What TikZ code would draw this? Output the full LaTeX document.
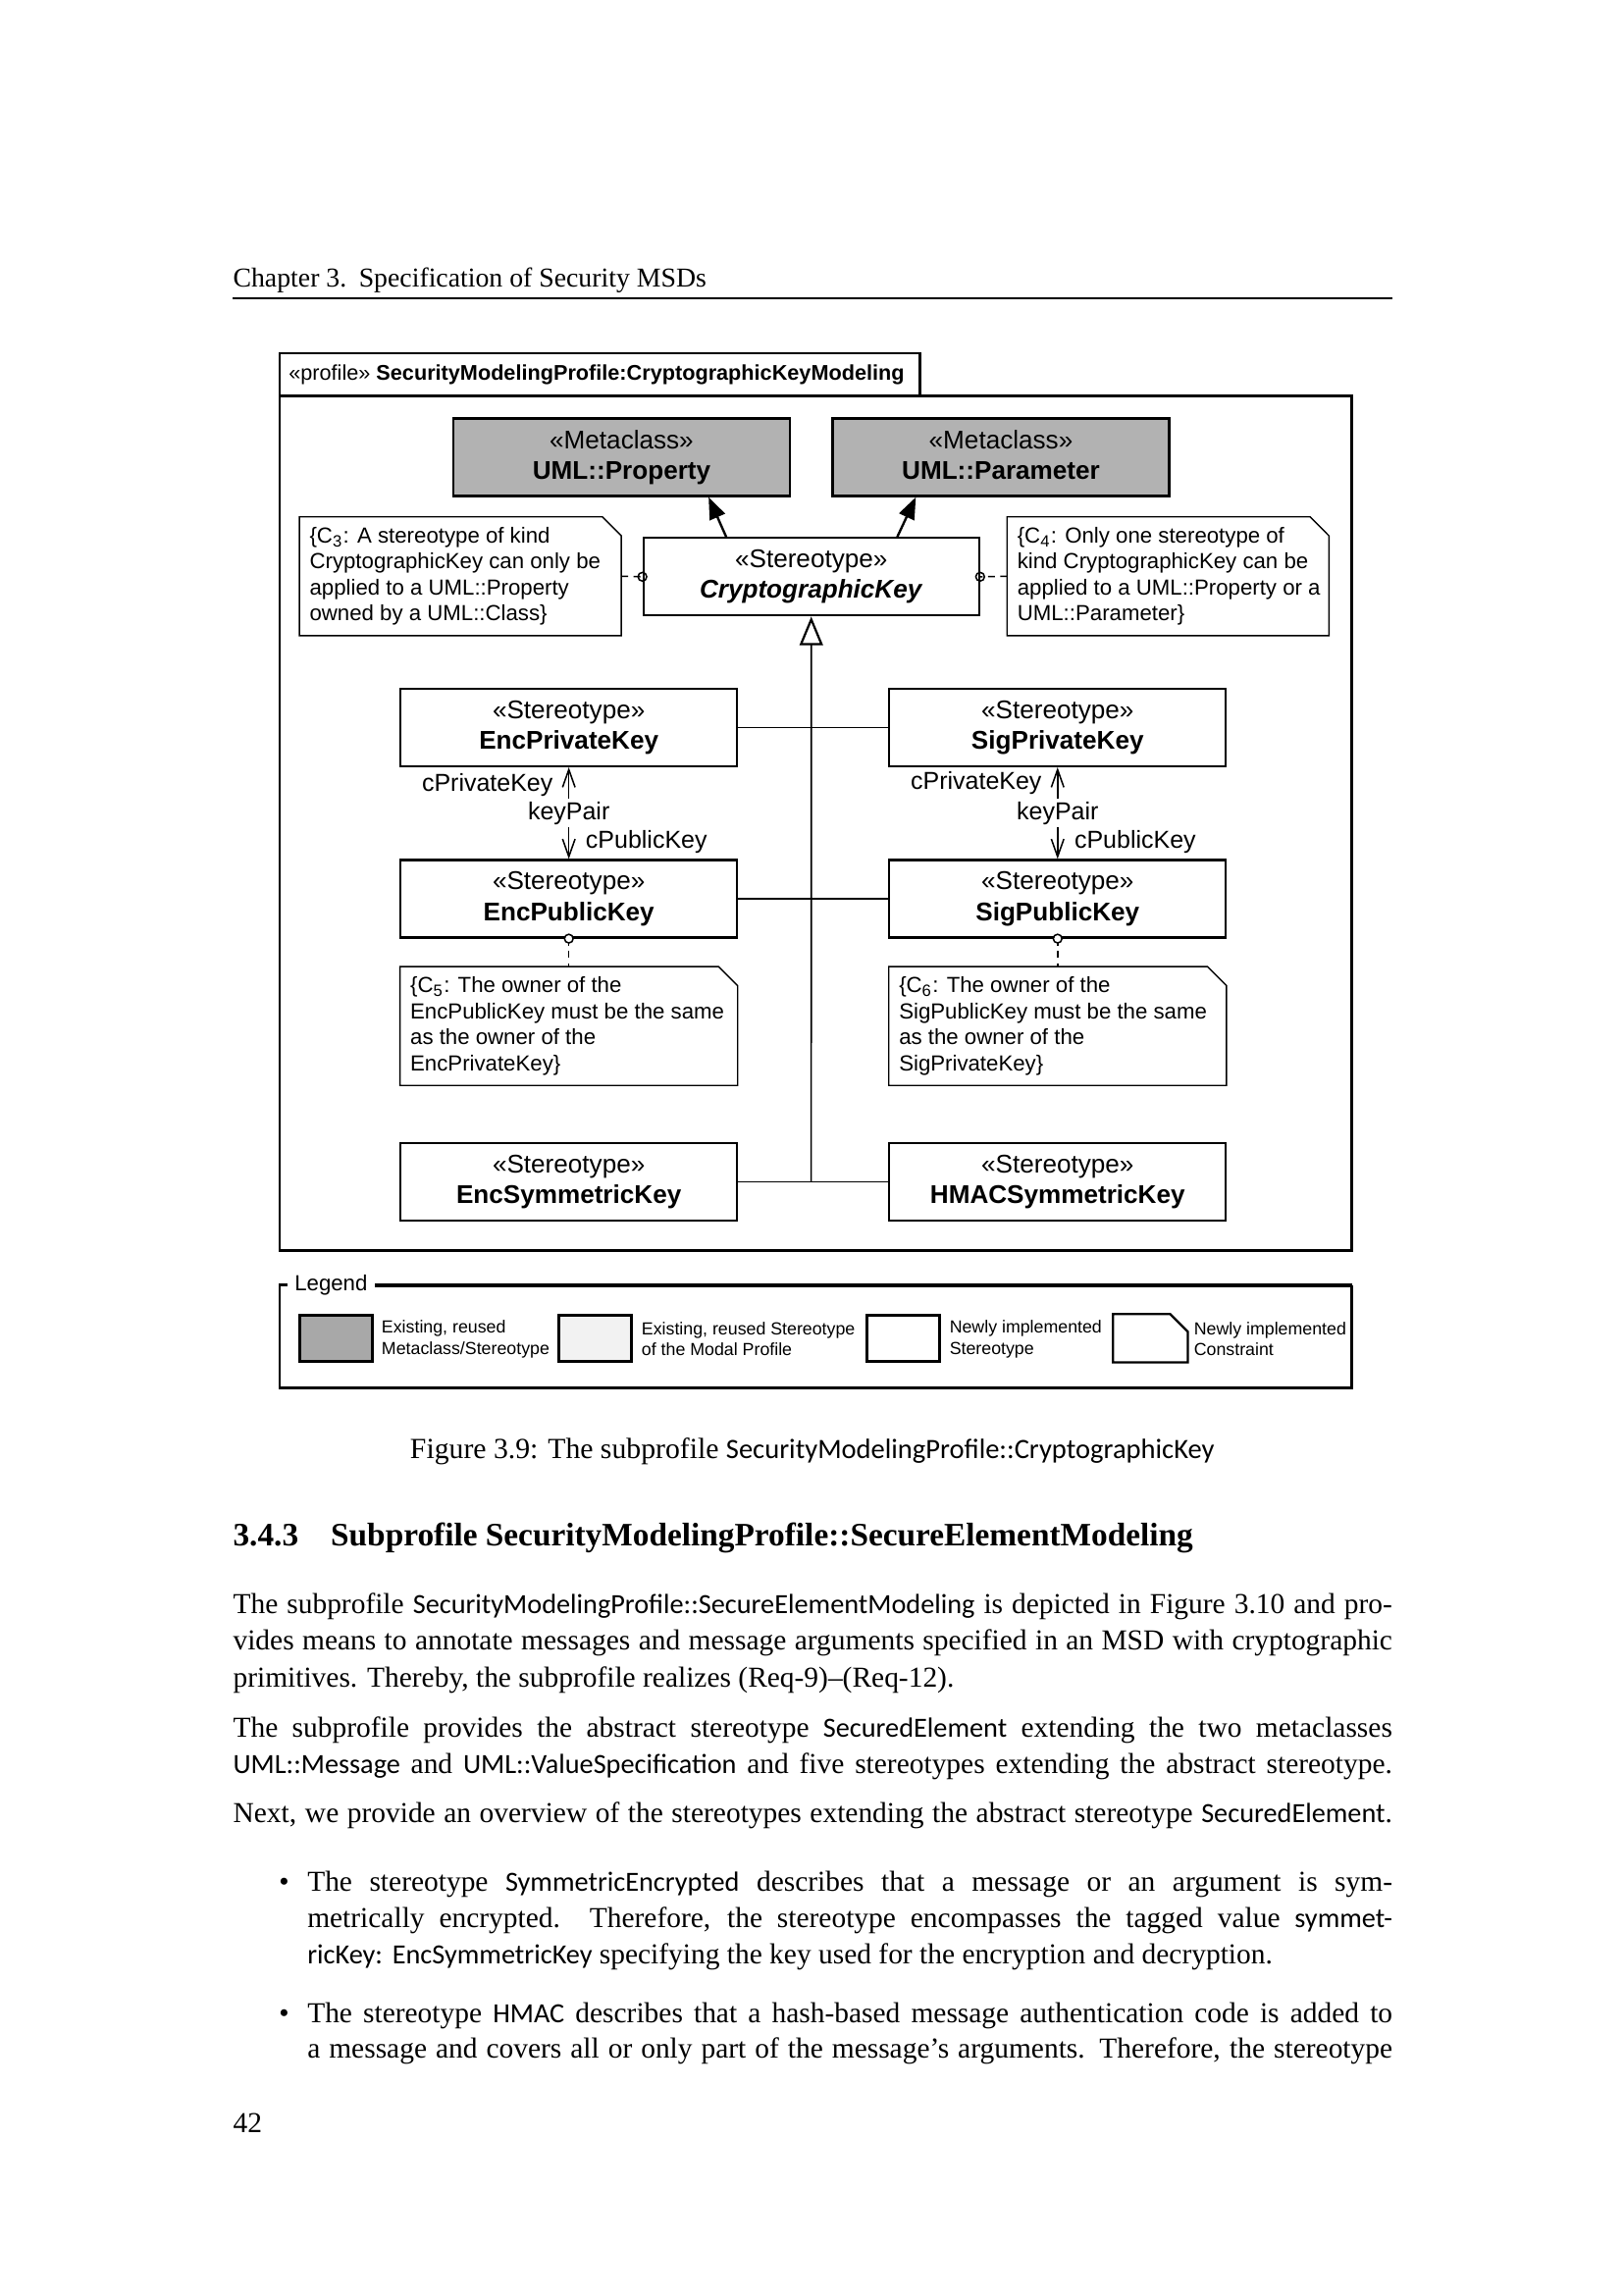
\documentclass[tikz,border=0pt]{standalone}
\usepackage{fontspec}
\setmainfont{Liberation Serif}
\newfontfamily\diag{Liberation Sans}
\newfontfamily\sfb{Carlito}[Scale=0.96]
\usetikzlibrary{arrows.meta,calc}
\definecolor{metagray}{gray}{0.70}
\definecolor{leggray}{gray}{0.66}
\definecolor{lightgray2}{gray}{0.95}
\newcommand{\jline}[1]{\makebox[425.3pt][s]{#1}}
\newcommand{\bline}[1]{\makebox[398.1pt][s]{#1}}
\newcommand{\drawnote}[2]{\draw[noteline] (#1.north west) -- ([xshift=-#2]#1.north east) -- ([yshift=-#2]#1.north east) -- (#1.south east) -- (#1.south west) -- cycle;}
\tikzset{
  frame/.style={line width=0.9pt},
  box/.style={draw, line width=0.8pt, fill=white, minimum width=343*0.36pt, minimum height=79*0.36pt, align=center, inner sep=0pt, font=\diag\fontsize{9.4}{11.3}\selectfont},
  meta/.style={box, fill=metagray},
  notearea/.style={minimum width=327*0.36pt, minimum height=120*0.36pt, inner sep=0pt},
  notetext/.style={anchor=west, align=left, inner sep=0pt, font=\diag\fontsize{8}{9.5}\selectfont},
  noteline/.style={line width=0.5pt, fill=white},
  conn/.style={line width=0.55pt},
  extarrow/.style={line width=0.85pt, -{Triangle[length=8pt,width=6pt]}},
  dashconn/.style={conn, dash pattern=on 2.5pt off 2pt},
  role/.style={font=\diag\fontsize{9}{10}\selectfont, inner sep=1pt},
  body/.style={anchor=base west, inner sep=0pt, font=\fontsize{10.6}{13.6}\selectfont},
  legbox/.style={draw, line width=0.8pt, minimum width=74*0.36pt, minimum height=47*0.36pt, inner sep=0pt},
  legtext/.style={anchor=west, align=left, inner sep=0pt, font=\diag\fontsize{6.4}{7.6}\selectfont},
  barb/.style={conn, {Straight Barb[length=6.5pt,width=4.6pt]}-{Straight Barb[length=6.5pt,width=4.6pt]}}
}
\begin{document}
\begin{tikzpicture}[x=0.36pt,y=-0.36pt]
\useasboundingbox (0,0) rectangle (1654,2339);
\begin{scope}[shift={(237,292)}, xscale=0.9962, yscale=0.9976, shift={(-237,-292)}]

% page header
\node[body, font=\fontsize{10}{12}\selectfont] (hdr) at (237,292) {Chapter 3.\hspace{4.5pt}Specification of Security MSDs};
\draw[line width=0.45pt] (237,304) -- (1423,304);

% profile frame
\draw[frame] (285,360) rectangle (940,404);
\draw[frame] (285,404) rectangle (1382,1277);
\node[anchor=west, inner sep=0pt, font=\diag\fontsize{7.8}{9.4}\selectfont] (tabtext) at (294,382) {«profile» \textbf{SecurityModelingProfile:CryptographicKeyModeling}};

% metaclasses
\node[meta] (prop) at (635,466.5) {«Metaclass»\\ \textbf{UML::Property}};
\node[meta] (param) at (1023,466.5) {«Metaclass»\\ \textbf{UML::Parameter}\vphantom{y}};

% abstract stereotype
\node[box, minimum width=342*0.36pt] (ck) at (829,588.5) {«Stereotype»\\ \textbf{\textit{CryptographicKey}}};

% constraints C3, C4
\node[notearea] (c3) at (470,588) {};
\drawnote{c3}{7pt}
\node[notetext] (c3t) at ($(c3.west)+(10,0)$) {\{C\textsubscript{3}: A stereotype of kind\\CryptographicKey can only be\\applied to a UML::Property\\owned by a UML::Class\}};
\node[notearea] (c4) at (1194,588) {};
\drawnote{c4}{7pt}
\node[notetext] (c4t) at ($(c4.west)+(10,0)$) {\{C\textsubscript{4}: Only one stereotype of\\kind CryptographicKey can be\\applied to a UML::Property or a\\UML::Parameter\}};

% concrete stereotypes
\node[box] (encpriv) at (581,742.5) {«Stereotype»\\ \textbf{EncPrivateKey}};
\node[box] (sigpriv) at (1081,742.5) {«Stereotype»\\ \textbf{SigPrivateKey}};
\node[box] (encpub) at (581,917.5) {«Stereotype»\\ \textbf{EncPublicKey}};
\node[box] (sigpub) at (1081,917.5) {«Stereotype»\\ \textbf{SigPublicKey}};
\node[box] (encsym) at (581,1206.5) {«Stereotype»\\ \textbf{EncSymmetricKey}};
\node[box] (hmac) at (1081,1206.5) {«Stereotype»\\ \textbf{HMACSymmetricKey}};

% constraints C5, C6
\node[notearea, minimum width=343*0.36pt] (c5) at (581,1047.5) {};
\drawnote{c5}{7pt}
\node[notetext] (c5t) at ($(c5.west)+(10,0)$) {\{C\textsubscript{5}: The owner of the\\EncPublicKey must be the same\\as the owner of the\\EncPrivateKey\}};
\node[notearea, minimum width=343*0.36pt] (c6) at (1081,1047.5) {};
\drawnote{c6}{7pt}
\node[notetext] (c6t) at ($(c6.west)+(10,0)$) {\{C\textsubscript{6}: The owner of the\\SigPublicKey must be the same\\as the owner of the\\SigPrivateKey\}};

% extensions
\draw[extarrow] ($(ck.north)+(-87,0)$) -- ($(prop.south)+(89,0)$);
\draw[extarrow] ($(ck.north)+(88,0)$) -- ($(param.south)+(-87,0)$);

% constraint attachments
\draw[dashconn] (c3.east) -- (ck.west);
\draw[conn] (ck.west) circle (1.6pt);
\draw[dashconn] (c4.west) -- (ck.east);
\draw[conn] (ck.east) circle (1.6pt);
\draw[dashconn] (encpub.south) -- (c5.north);
\draw[conn, fill=white] (encpub.south) circle (1.6pt);
\draw[dashconn] (sigpub.south) -- (c6.north);
\draw[conn, fill=white] (sigpub.south) circle (1.6pt);

% generalization tree
\coordinate (trunk) at (ck.south |- encsym.east);
\draw[conn, -{Triangle[open, length=10.5pt, width=8.5pt, fill=white, line width=0.8pt]}] (trunk) -- (ck.south);
\draw[conn] (encpriv.east) -- (sigpriv.west);
\draw[conn] (encpub.east) -- (sigpub.west);
\draw[conn] (encsym.east) -- (hmac.west);

% key pair associations
\draw[barb] (encpriv.south) -- (encpub.north) node[midway, fill=white, role, inner sep=1pt] (kp1) {keyPair};
\node[role, anchor=east] (cpk1) at ($(encpriv.south)+(-13,18)$) {cPrivateKey};
\node[role, anchor=west] (cpu1) at ($(encpub.north)+(14,-17)$) {cPublicKey};
\draw[barb] (sigpriv.south) -- (sigpub.north) node[midway, fill=white, role, inner sep=1pt] (kp2) {keyPair};
\node[role, anchor=east] (cpk2) at ($(sigpriv.south)+(-13,16)$) {cPrivateKey};
\node[role, anchor=west] (cpu2) at ($(sigpub.north)+(14,-17)$) {cPublicKey};

% legend
\draw[frame] (293,1312) -- (285,1312) -- (285,1417) -- (1382,1417) -- (1382,1312);
\draw[line width=1.4pt] (383,1312) -- (1382,1312);
\node[anchor=west, inner sep=0pt, font=\diag\fontsize{8}{9.6}\selectfont] (leglbl) at (300,1312) {Legend};
\node[legbox, fill=leggray] (lb1) at (343,1366.5) {};
\node[legtext] (lt1) at (389,1367.5) {Existing, reused\\Metaclass/Stereotype};
\node[legbox, fill=lightgray2] (lb2) at (608,1366.5) {};
\node[legtext] (lt2) at (655,1367.5) {Existing, reused Stereotype\\of the Modal Profile};
\node[legbox, fill=white] (lb3) at (923,1366.5) {};
\node[legtext] (lt3) at (970,1367.5) {Newly implemented\\Stereotype};
\node[legbox, draw=none] (lb4) at (1176,1366.5) {};
\draw[line width=0.8pt, fill=white] (lb4.north west) -- ([xshift=-6.5pt]lb4.north east) -- ([yshift=-6.5pt]lb4.north east) -- (lb4.south east) -- (lb4.south west) -- cycle;
\node[legtext] (lt4) at (1220,1367.5) {Newly implemented\\Constraint};

% caption
\node[anchor=base, inner sep=0pt, font=\fontsize{10.7}{13.6}\selectfont] (cap) at (830,1489) {Figure 3.9: The subprofile {\sfb SecurityModelingProfile::CryptographicKey}};

% section heading
\node[body, font=\bfseries\fontsize{12}{14}\selectfont] (secnum) at (237,1579) {3.4.3};
\node[body, font=\bfseries\fontsize{12}{14}\selectfont] (sectitle) at (337,1579) {Subprofile SecurityModelingProfile::SecureElementModeling};

% paragraphs
\node[body] (p1a) at (237,1648) {\jline{The subprofile {\sfb SecurityModelingProfile::SecureElementModeling} is depicted in Figure 3.10 and pro-}};
\node[body] (p1b) at (237,1685) {\jline{vides means to annotate messages and message arguments specified in an MSD with cryptographic}};
\node[body] (p1c) at (237,1723) {primitives. Thereby, the subprofile realizes (Req-9)–(Req-12).};
\node[body] (p2a) at (237,1774) {\jline{The subprofile provides the abstract stereotype {\sfb SecuredElement} extending the two metaclasses}};
\node[body] (p2b) at (237,1811) {\jline{{\sfb UML::Message} and {\sfb UML::ValueSpecification} and five stereotypes extending the abstract stereotype.}};
\node[body] (p3) at (237,1861) {\jline{Next, we provide an overview of the stereotypes extending the abstract stereotype {\sfb SecuredElement}.}};

% bullets
\node[body] (b1dot) at (284,1931) {\textbullet};
\node[body] (b1a) at (313,1931) {\bline{The stereotype {\sfb SymmetricEncrypted} describes that a message or an argument is sym-}};
\node[body] (b1b) at (313,1968) {\bline{metrically encrypted.\ \ Therefore, the stereotype encompasses the tagged value {\sfb symmet-}}};
\node[body] (b1c) at (313,2006) {{\sfb ricKey:} {\sfb EncSymmetricKey} specifying the key used for the encryption and decryption.};
\node[body] (b2dot) at (284,2066) {\textbullet};
\node[body] (b2a) at (313,2066) {\bline{The stereotype {\sfb HMAC} describes that a hash-based message authentication code is added to}};
\node[body] (b2b) at (313,2102) {\bline{a message and covers all or only part of the message’s arguments. Therefore, the stereotype}};

% page number
\node[body] (pgno) at (237,2178) {42};
\end{scope}
\end{tikzpicture}
\end{document}
